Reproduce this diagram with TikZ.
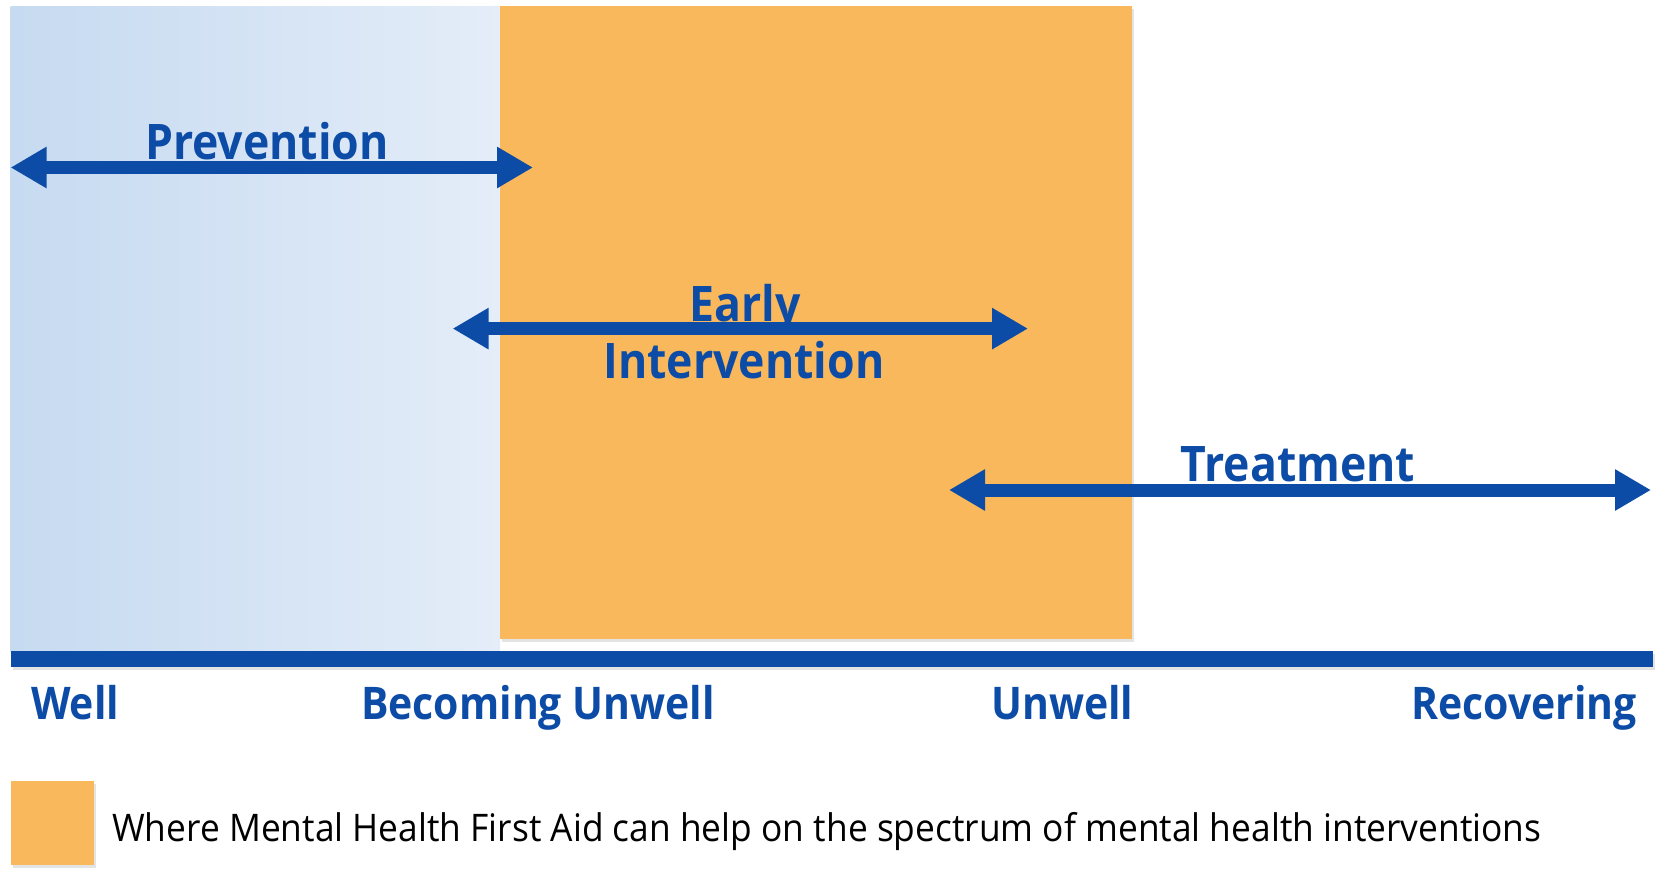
\documentclass[tikz,border=0pt]{standalone}
\usepackage{fontspec}
\setmainfont{Open Sans}
\newfontfamily\narrowbold{Open Sans}[FakeStretch=0.91]
\newfontfamily\narrowreg{Open Sans}[FakeStretch=0.93]
\usetikzlibrary{arrows.meta,shadows}
\definecolor{mhblue}{HTML}{0D4CA6}
\definecolor{mhorange}{HTML}{F9B85B}
\definecolor{gradL}{HTML}{C6DAF1}
\definecolor{gradR}{HTML}{E4EDF8}
\tikzset{
  spanarrow/.style={mhblue, line width=13pt,
    {Triangle[length=36pt,width=39pt]}-{Triangle[length=36pt,width=39pt]}},
  toplabel/.style={text=mhblue, anchor=base, inner sep=0pt,
    font=\narrowbold\bfseries\fontsize{49}{58}\selectfont},
  axislabel/.style={text=mhblue, anchor=base west, inner sep=0pt,
    font=\narrowbold\bfseries\fontsize{45}{54}\selectfont},
  legendtext/.style={text=black, anchor=base west, inner sep=0pt,
    font=\narrowreg\fontsize{38}{46}\selectfont},
  softshadow/.style={drop shadow={opacity=0.22, shadow xshift=2pt, shadow yshift=-3pt}}
}
\begin{document}
\begin{tikzpicture}[x=1pt,y=-1pt]
\useasboundingbox (0,0) rectangle (1662,868);
% background regions
\fill[left color=gradL, right color=gradR] (10.6,6.4) rectangle (500,651);
\fill[mhorange, softshadow] (500,6.4) rectangle (1132,639);
% axis
\fill[mhblue, softshadow] (10.6,651) rectangle (1653,667);
% arrows
\coordinate (pL) at (10.6,167.5);
\coordinate (pR) at (533,167.5);
\coordinate (eL) at (452.6,328.6);
\coordinate (eR) at (1028,328.6);
\coordinate (tL) at (949,490);
\coordinate (tR) at (1651,490);
\draw[spanarrow] (pL) -- (pR);
\draw[spanarrow] (eL) -- (eR);
\draw[spanarrow] (tL) -- (tR);
% labels
\node[toplabel] (prev) at (267,159) {Prevention};
\node[toplabel] (early) at (745,321) {Early};
\node[toplabel] (interv) at (744,378) {Intervention};
\node[toplabel] (treat) at (1298,481) {Treatment};
\node[axislabel] (well) at (31,719) {Well};
\node[axislabel] (becoming) at (361,719) {Becoming Unwell};
\node[axislabel] (unwell) at (991,719) {Unwell};
\node[axislabel] (recov) at (1411,719) {Recovering};
% legend
\fill[mhorange, softshadow] (10.6,781) rectangle (94,865);
\node[legendtext] (legend) at (112,841) {Where Mental Health First Aid can help on the spectrum of mental health interventions};
\end{tikzpicture}
\end{document}
